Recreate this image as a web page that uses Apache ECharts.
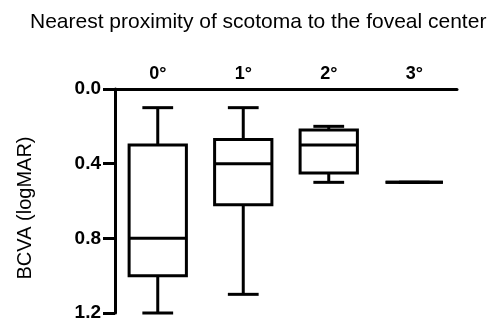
<!DOCTYPE html>
<html>
<head>
<meta charset="utf-8">
<script src="https://cdn.jsdelivr.net/npm/echarts@6/dist/echarts.min.js"></script>
<style>
  html, body { margin: 0; padding: 0; background: #fff; }
  #chart { width: 494px; height: 324px; }
</style>
</head>
<body>
<div id="chart"></div>
<script>
const categories = ['0°', '1°', '2°', '3°'];
const whiskerTop = [0.1, 0.1, 0.2, 0.5];
const q1 = [0.3, 0.27, 0.22, 0.5];
const median = [0.8, 0.4, 0.3, 0.5];
const q3 = [1.0, 0.62, 0.45, 0.5];
const whiskerBottom = [1.2, 1.1, 0.5, 0.5];
const yTicks = [0, 0.4, 0.8, 1.2];

const font = 'Liberation Sans, Arial, sans-serif';

const boxData = categories.map((c, i) => [i, whiskerTop[i], q1[i], median[i], q3[i], whiskerBottom[i]]);

const lineStyle = { stroke: '#000', lineWidth: 3, fill: null };

const renderBox = (params, api) => {
  const idx = api.value(0);
  const x = api.coord([idx, 0])[0];
  const band = api.size([1, 0])[0];
  const boxW = band * 0.67;
  const capW = band * 0.36;
  const yTop = api.coord([idx, api.value(1)])[1];
  const yQ1 = api.coord([idx, api.value(2)])[1];
  const yMed = api.coord([idx, api.value(3)])[1];
  const yQ3 = api.coord([idx, api.value(4)])[1];
  const yBot = api.coord([idx, api.value(5)])[1];
  const line = (x1, y1, x2, y2) => ({ type: 'line', shape: { x1, y1, x2, y2 }, style: lineStyle });
  return {
    type: 'group',
    children: [
      line(x, yTop, x, yQ1),
      line(x, yQ3, x, yBot),
      line(x - capW / 2, yTop, x + capW / 2, yTop),
      line(x - capW / 2, yBot, x + capW / 2, yBot),
      {
        type: 'rect',
        shape: { x: x - boxW / 2, y: yQ1, width: boxW, height: yQ3 - yQ1 },
        style: lineStyle
      },
      line(x - boxW / 2, yMed, x + boxW / 2, yMed)
    ]
  };
};

const myChart = echarts.init(document.getElementById('chart'));

myChart.setOption({
  animation: false,
  backgroundColor: '#fff',
  title: {
    text: 'Nearest proximity of scotoma to the foveal center',
    left: 25,
    top: 7,
    textStyle: {
      color: '#000',
      fontFamily: font,
      fontSize: 21,
      fontWeight: 'normal'
    }
  },
  grid: {
    left: 115,
    right: 37,
    top: 89,
    bottom: 11,
    containLabel: false
  },
  xAxis: {
    type: 'category',
    position: 'top',
    data: categories,
    boundaryGap: true,
    axisLine: {
      lineStyle: { color: '#000', width: 3 }
    },
    axisTick: {
      inside: true,
      alignWithLabel: true,
      length: 9,
      lineStyle: { color: '#000', width: 3 }
    },
    axisLabel: {
      color: '#000',
      fontFamily: font,
      fontSize: 18,
      fontWeight: 'bold',
      margin: 6
    },
    splitLine: { show: false }
  },
  yAxis: {
    type: 'value',
    inverse: true,
    min: yTicks[0],
    max: yTicks[yTicks.length - 1],
    interval: 0.4,
    name: 'BCVA (logMAR)',
    nameLocation: 'middle',
    nameGap: 80,
    nameTextStyle: {
      color: '#000',
      fontFamily: font,
      fontSize: 20,
      padding: [0, 14, 0, 0]
    },
    axisLine: {
      show: true,
      lineStyle: { color: '#000', width: 3 }
    },
    axisTick: {
      show: true,
      length: 12,
      lineStyle: { color: '#000', width: 3 }
    },
    axisLabel: {
      color: '#000',
      fontFamily: font,
      fontSize: 19,
      fontWeight: 'bold',
      margin: 14,
      formatter: v => v.toFixed(1)
    },
    splitLine: { show: false }
  },
  series: [
    {
      type: 'custom',
      renderItem: renderBox,
      encode: { x: 0, y: [1, 2, 3, 4, 5] },
      data: boxData
    }
  ]
});

window.onresize = () => myChart.resize();
</script>
</body>
</html>
